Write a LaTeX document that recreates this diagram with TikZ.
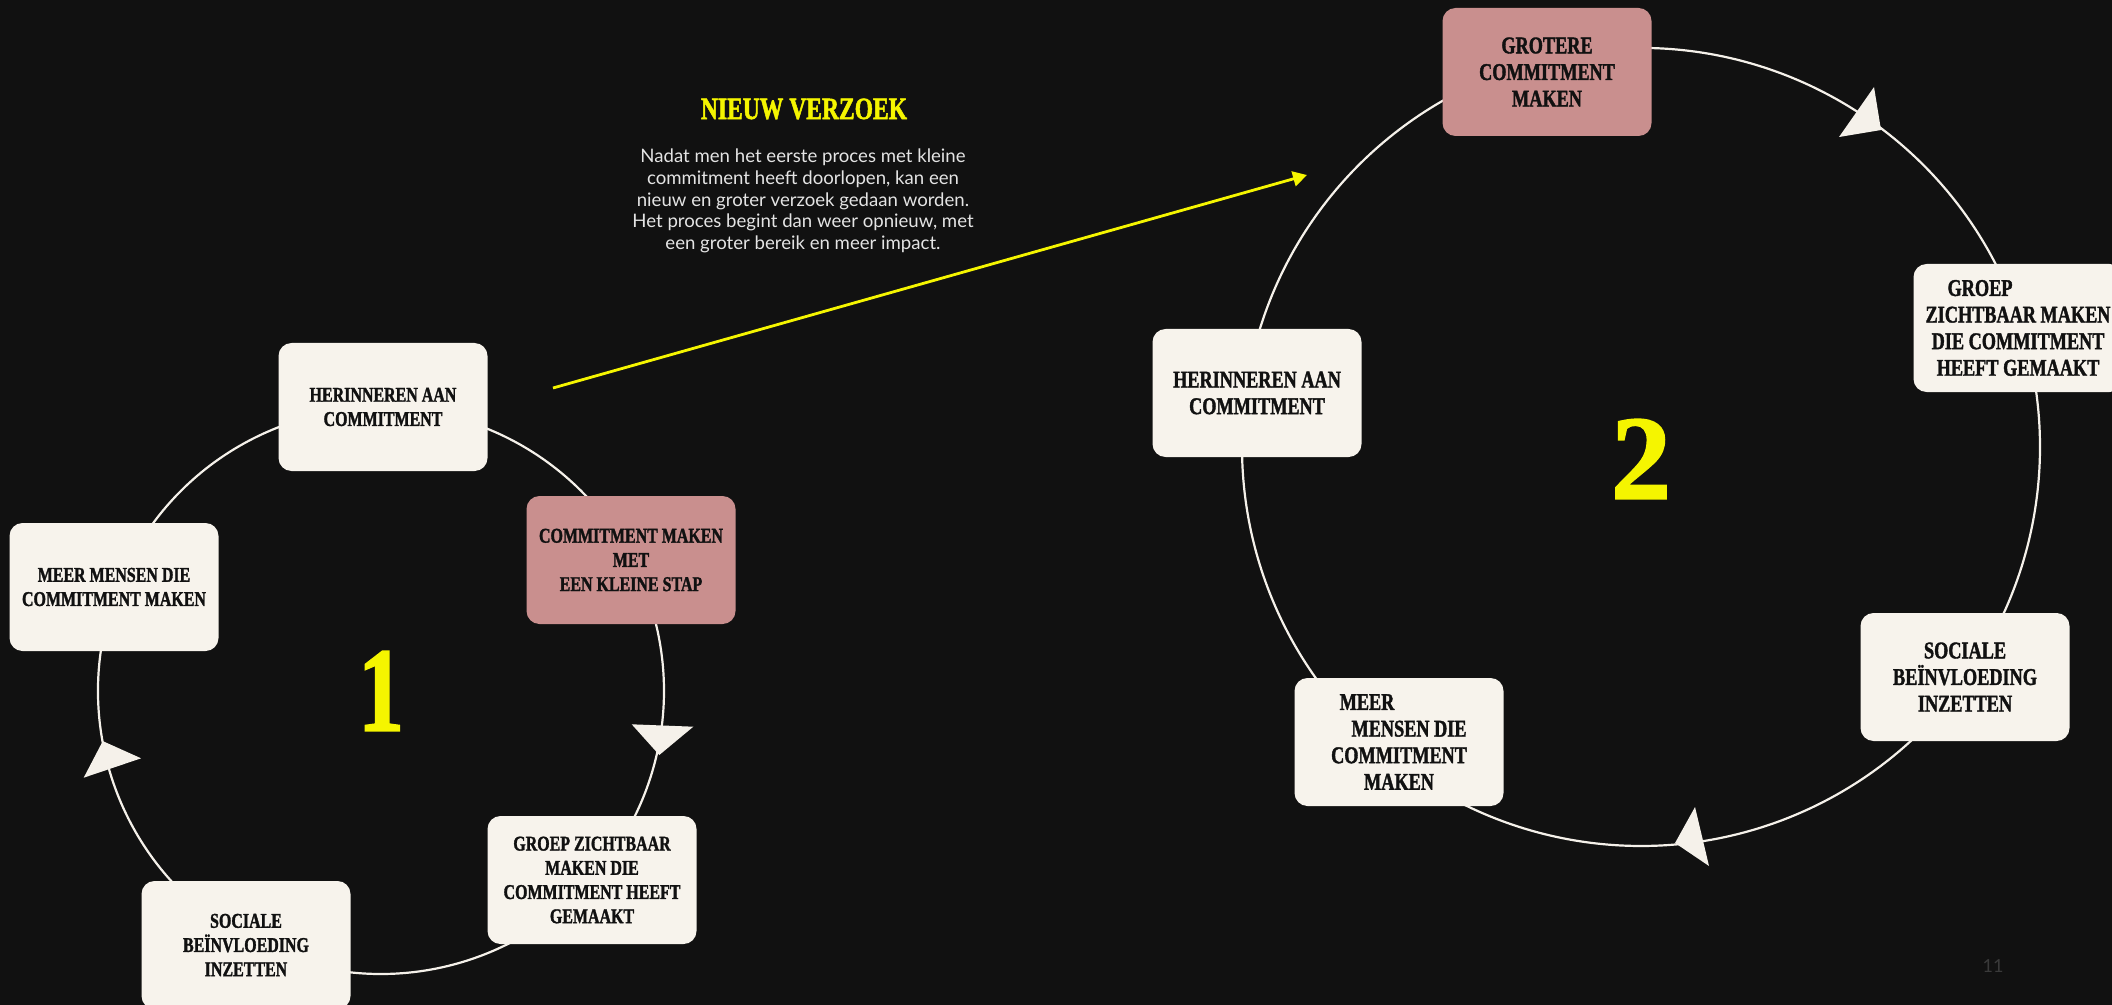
\documentclass[tikz,border=0pt]{standalone}
\usepackage{fontspec}
\usetikzlibrary{arrows.meta,backgrounds}
\newfontfamily\boxfont[FakeStretch=0.76,FakeBold=1.5]{Liberation Serif}
\newfontfamily\numfont[FakeBold=1.5]{Liberation Serif}
\newfontfamily\bodyfont{Lato}
\definecolor{bg}{HTML}{111111}
\definecolor{cream}{HTML}{F7F3EC}
\definecolor{rose}{HTML}{C98F8E}
\definecolor{ylw}{HTML}{F5F500}
\definecolor{ink}{HTML}{111111}
\definecolor{ringc}{HTML}{F5F1EA}
\definecolor{bodyc}{HTML}{E4E4E4}
\definecolor{pagec}{HTML}{3A3A3A}
\begin{document}
\begin{tikzpicture}[x=0.5pt,y=-0.5pt,
  box/.style={fill=cream, rounded corners=6.5pt, minimum width=104.5pt, minimum height=64pt, inner sep=2pt, align=center, text=ink},
  boxa/.style={box, font=\boxfont\bfseries\fontsize{10.5}{12.1}\selectfont},
  boxb/.style={box, font=\boxfont\bfseries\fontsize{12}{13.3}\selectfont},
  hot/.style={fill=rose},
  ring/.style={draw=ringc, line width=1.1pt},
  tipc/.style={fill=ringc, draw=none},
  yarrow/.style={draw=ylw, line width=1.4pt, -{Triangle[length=7pt,width=7.5pt]}},
  bignum/.style={font=\boxfont\bfseries\fontsize{60}{60}\selectfont, text=ylw, inner sep=0pt}
]
\useasboundingbox (0,0) rectangle (2112,1005);

% ---- cycle 1 ----
\coordinate (o1) at (381,691);
\node[boxa] (h1) at (383,407) {HERINNEREN AAN\\COMMITMENT};
\node[boxa,hot] (c1) at (631,560) {COMMITMENT MAKEN\\MET\\EEN KLEINE STAP};
\node[boxa] (g1) at (592,880) {GROEP ZICHTBAAR\\MAKEN DIE\\COMMITMENT HEEFT\\GEMAAKT};
\node[boxa] (s1) at (246,945) {SOCIALE\\BEÏNVLOEDING\\INZETTEN};
\node[boxa] (m1) at (114,587) {MEER MENSEN DIE\\COMMITMENT MAKEN};
\node[bignum] (n1) at (381,691) {1};

% ---- cycle 2 ----
\coordinate (o2) at (1641,447);
\node[boxb,hot] (c2) at (1547,72) {GROTERE\\COMMITMENT\\MAKEN};
\node[boxb] (g2) at (2018,328) {GROEP\hspace*{38pt}\\ZICHTBAAR MAKEN\\DIE COMMITMENT\\HEEFT GEMAAKT};
\node[boxb] (s2) at (1965,677) {SOCIALE\\BEÏNVLOEDING\\INZETTEN};
\node[boxb] (m2) at (1399,742) {MEER\hspace*{32pt}\\\hspace*{10pt}MENSEN DIE\\COMMITMENT\\MAKEN};
\node[boxb] (h2) at (1257,393) {HERINNEREN AAN\\COMMITMENT};
\node[bignum, font=\numfont\bfseries\fontsize{60}{60}\selectfont] (n2) at (1641,459) {2};

% ---- text ----
\node[font=\boxfont\bfseries\fontsize{15.5}{18}\selectfont, text=ylw] (title) at (804,109) {NIEUW VERZOEK};
\node[font=\bodyfont\fontsize{9.3}{10.85}\selectfont, text=bodyc, align=center] (body) at (803,201)
  {Nadat men het eerste proces met kleine\\commitment heeft doorlopen, kan een\\nieuw en groter verzoek gedaan worden.\\Het proces begint dan weer opnieuw, met\\een groter bereik en meer impact.};
\node[font=\bodyfont\fontsize{9}{10}\selectfont, text=pagec] (pg) at (1993,966) {11};

% ---- yellow arrow ----
\coordinate (ys) at (553,388);
\coordinate (ye) at (1307,175);
\draw[yarrow] (ys) -- (ye);

% ---- rings ----
\begin{scope}[on background layer]
\fill[bg] (0,0) rectangle (2112,1005);
% cycle 1: h1 -> c1 -> g1 -> s1 -> m1 -> h1
\draw[ring] (o1) ++(-89.6:283) arc[start angle=-89.6, end angle=-27.6, radius=283];
\draw[ring] (o1) ++(-27.6:283) arc[start angle=-27.6, end angle=41.8, radius=283];
\draw[ring] (o1) ++(41.8:283) arc[start angle=41.8, end angle=118, radius=283];
\draw[ring] (o1) ++(118:283) arc[start angle=118, end angle=201.3, radius=283];
\draw[ring] (o1) ++(201.3:283) arc[start angle=201.3, end angle=270.4, radius=283];
% cycle 2: c2 -> g2 -> s2 -> m2 -> h2 -> c2
\draw[ring] (o2) ++(-104.1:399) arc[start angle=-104.1, end angle=-17.5, radius=399];
\draw[ring] (o2) ++(-17.5:399) arc[start angle=-17.5, end angle=35.4, radius=399];
\draw[ring] (o2) ++(35.4:399) arc[start angle=35.4, end angle=129.4, radius=399];
\draw[ring] (o2) ++(129.4:399) arc[start angle=129.4, end angle=188, radius=399];
\draw[ring] (o2) ++(188:399) arc[start angle=188, end angle=255.9, radius=399];
% arrowheads
\fill[tipc] (631.7,724.3) -- (693.3,726.7) -- (659.3,755) -- cycle;
\fill[tipc] (83.7,777.7) -- (141.1,758.3) -- (102.8,741.1) -- cycle;
\fill[tipc] (1874,87) -- (1839,137) -- (1881,130) -- cycle;
\fill[tipc] (1695,807) -- (1709,866) -- (1675,843) -- cycle;
\end{scope}
\end{tikzpicture}
\end{document}
